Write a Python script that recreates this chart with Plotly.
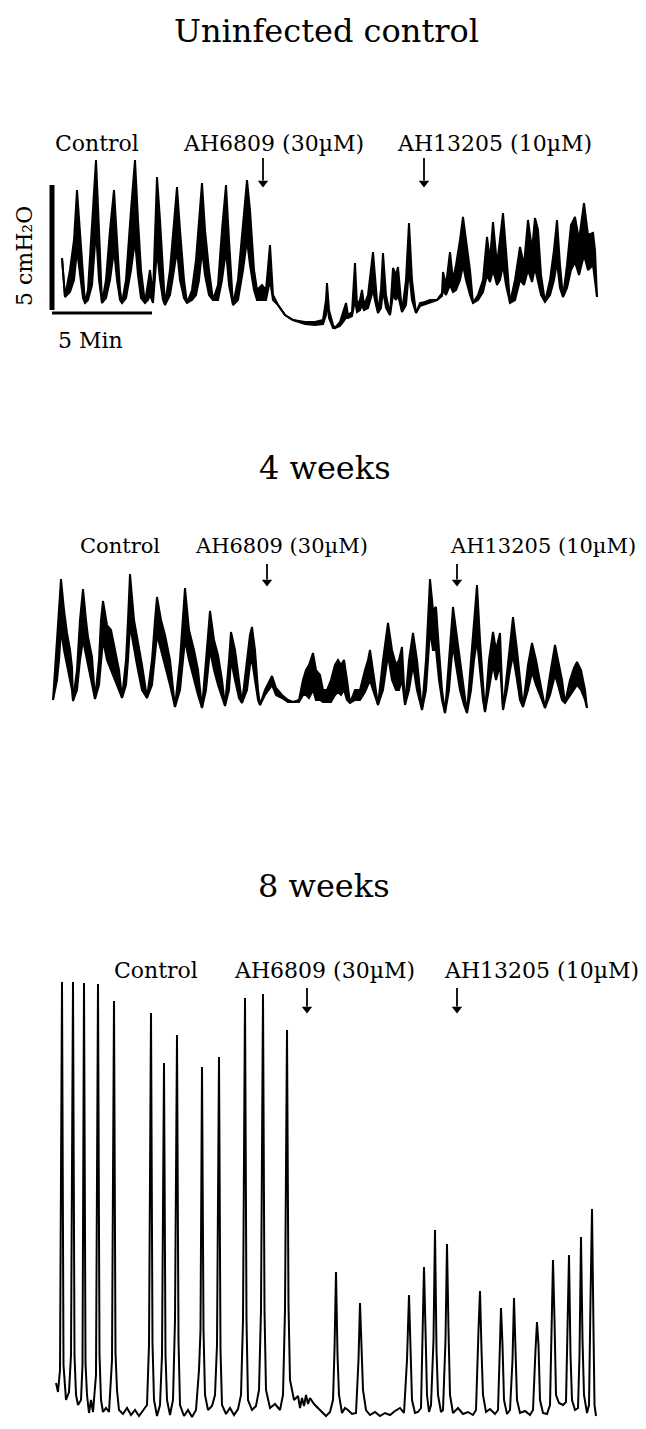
import plotly.graph_objects as go

# ---------------------------------------------------------------------------
# Intravesical pressure recordings.
# Time: seconds from the start of each trace.  Pressure: cmH2O above baseline.
# The chart-recorder traces carry fast oscillations, so the first two are kept
# as upper / lower envelopes; the 8-week trace is a single line.
# ---------------------------------------------------------------------------

panel_titles = ["Uninfected control", "4 weeks", "8 weeks"]
drug_labels = ["Control", "AH6809 (30µM)", "AH13205 (10µM)"]
scale_minutes = 5
scale_cmh2o = 5

# drug additions (s) for each recording: AH6809, AH13205
uninf_drug_t = [633, 1116]
wk4_drug_t = [642, 1212]
wk8_drug_t = [753, 1203]

uninf_t = [30, 39, 54, 66, 75, 84, 93, 99, 108, 120,
           132, 141, 150, 162, 174, 186, 195, 204, 210, 222,
           237, 249, 258, 267, 279, 288, 294, 303, 315, 324,
           333, 339, 354, 366, 375, 384, 396, 405, 420, 432,
           441, 450, 459, 471, 483, 498, 510, 522, 531, 543,
           558, 573, 585, 594, 606, 615, 630, 642, 654, 663,
           678, 699, 723, 759, 789, 813, 822, 825, 831, 843,
           849, 864, 882, 888, 900, 909, 915, 924, 930, 936,
           948, 963, 972, 978, 987, 993, 1002, 1014, 1023, 1032,
           1038, 1047, 1050, 1062, 1071, 1080, 1092, 1104, 1119, 1134,
           1155, 1170, 1173, 1182, 1194, 1203, 1212, 1224, 1233, 1242,
           1254, 1263, 1278, 1293, 1305, 1314, 1323, 1335, 1344, 1353,
           1362, 1374, 1389, 1404, 1416, 1428, 1440, 1449, 1458, 1467,
           1479, 1494, 1506, 1515, 1524, 1533, 1545, 1557, 1569, 1581,
           1596, 1608, 1623, 1629, 1635]
uninf_hi = [2.08, 0.52, 1.6, 2.8, 4.8, 3.2, 1.2, 0.28, 0.8, 3.2,
            6.0, 3.2, 0.28, 1.2, 3.2, 4.8, 2.8, 0.8, 0.28, 1.2,
            4.0, 6.0, 3.6, 1.6, 0.28, 1.2, 1.6, 0.6, 5.32, 3.6,
            1.2, 0.2, 1.6, 3.6, 4.92, 3.2, 1.2, 0.28, 0.8, 2.0,
            3.6, 5.08, 3.2, 1.6, 0.4, 1.0, 3.2, 5.0, 2.8, 0.2,
            1.2, 3.6, 5.2, 4.0, 1.6, 0.8, 1.0, 0.8, 2.6, 0.6,
            0.2, -0.2, -0.4, -0.48, -0.48, -0.4, 0.4, 1.08, 0.0, -0.6,
            -0.72, -0.48, 0.28, -0.2, -0.08, 1.88, 0.2, 0.4, 0.8, 0.2,
            0.6, 2.32, 0.8, -0.12, 0.8, 2.28, 0.6, -0.2, 1.68, 1.4,
            1.72, 0.2, -0.08, 1.2, 3.48, 1.2, -0.12, 0.28, 0.32, 0.4,
            0.4, 0.68, 1.52, 1.0, 2.32, 1.2, 1.8, 2.8, 3.72, 2.8,
            1.6, 0.28, 0.6, 1.2, 2.92, 2.0, 3.52, 1.8, 2.8, 3.88,
            2.4, 0.28, 1.2, 2.52, 1.8, 3.6, 2.4, 3.68, 3.2, 1.4,
            0.32, 1.2, 2.4, 3.6, 1.8, 0.52, 1.8, 3.4, 3.72, 2.8,
            4.28, 3.0, 3.08, 2.4, 0.52]
uninf_lo = [2.08, 0.52, 0.72, 1.2, 2.4, 1.4, 0.48, 0.28, 0.4, 1.0,
            3.2, 1.2, 0.28, 0.48, 1.2, 2.4, 1.2, 0.4, 0.28, 0.48,
            1.6, 2.8, 1.4, 0.48, 0.28, 0.4, 0.6, 0.28, 2.4, 1.2,
            0.4, 0.2, 0.6, 1.6, 2.4, 1.2, 0.48, 0.28, 0.4, 0.6,
            1.2, 2.4, 1.4, 0.6, 0.4, 0.4, 1.2, 2.4, 1.0, 0.2,
            0.4, 1.6, 2.8, 1.8, 0.8, 0.4, 0.4, 0.4, 1.2, 0.4,
            0.2, -0.2, -0.4, -0.56, -0.6, -0.56, -0.2, 0.4, -0.32, -0.72,
            -0.72, -0.64, -0.32, -0.32, -0.24, 0.4, -0.08, 0.0, 0.2, 0.0,
            0.08, 0.8, 0.2, -0.12, 0.08, 0.8, 0.08, -0.2, 0.6, 0.4,
            0.6, 0.0, -0.08, 0.2, 1.6, 0.4, -0.12, 0.16, 0.24, 0.32,
            0.4, 0.56, 0.8, 0.6, 1.0, 0.72, 0.8, 1.2, 1.8, 1.2,
            0.6, 0.28, 0.4, 0.72, 1.4, 1.12, 1.6, 1.0, 1.2, 1.8,
            1.0, 0.28, 0.4, 1.2, 1.0, 1.6, 1.12, 1.68, 1.2, 0.6,
            0.32, 0.6, 1.2, 1.92, 0.88, 0.52, 0.88, 1.6, 1.92, 1.4,
            2.2, 1.6, 1.8, 1.2, 0.52]

wk4_t = [0, 12, 18, 24, 33, 42, 51, 57, 60, 72,
         81, 90, 99, 105, 117, 126, 138, 144, 150, 162,
         174, 186, 198, 207, 219, 225, 231, 243, 252, 267,
         282, 297, 306, 312, 324, 336, 351, 366, 381, 390,
         396, 408, 423, 435, 447, 459, 471, 483, 495, 507,
         516, 528, 534, 546, 558, 567, 582, 591, 597, 606,
         615, 621, 636, 651, 657, 669, 687, 705, 720, 738,
         750, 759, 768, 780, 789, 801, 810, 822, 834, 846,
         855, 864, 873, 882, 891, 906, 921, 936, 945, 951,
         960, 975, 990, 999, 1005, 1017, 1029, 1038, 1047, 1056,
         1068, 1080, 1092, 1107, 1119, 1125, 1131, 1140, 1149, 1158,
         1167, 1176, 1188, 1194, 1200, 1209, 1221, 1233, 1242, 1254,
         1263, 1272, 1281, 1290, 1296, 1308, 1320, 1329, 1341, 1350,
         1362, 1371, 1380, 1392, 1401, 1410, 1425, 1437, 1449, 1461,
         1476, 1491, 1506, 1515, 1527, 1536, 1551, 1563, 1572, 1584,
         1596, 1602]
wk4_hi = [0.2, 2.6, 4.2, 5.04, 3.8, 2.88, 2.2, 1.52, 0.16, 1.4,
          3.4, 4.64, 3.4, 2.72, 1.92, 0.24, 1.8, 3.4, 4.16, 3.2,
          3.0, 2.2, 1.4, 0.28, 1.8, 3.4, 5.24, 3.4, 2.72, 1.6,
          0.28, 1.8, 3.4, 4.32, 3.4, 2.8, 1.8, -0.08, 1.8, 3.4,
          4.68, 3.0, 2.2, 1.4, -0.12, 1.8, 3.76, 2.6, 2.0, 1.0,
          -0.04, 1.8, 2.92, 2.2, 1.0, 0.08, 1.8, 2.8, 3.12, 2.2,
          0.6, 0.0, 0.6, 1.0, 1.16, 0.68, 0.4, 0.2, 0.12, 0.2,
          1.0, 1.4, 1.6, 2.08, 1.4, 1.2, 0.6, 0.6, 1.0, 1.6,
          1.8, 1.6, 1.8, 1.0, 0.08, 0.6, 0.6, 1.4, 1.8, 2.2,
          1.4, 0.0, 1.8, 2.6, 3.28, 2.2, 1.6, 1.8, 2.32, 0.0,
          1.8, 2.88, 1.8, -0.2, 1.8, 3.4, 5.04, 3.8, 3.92, 2.2,
          0.6, -0.32, 1.8, 3.0, 3.92, 3.0, 1.8, 0.6, -0.32, 1.8,
          3.4, 4.8, 2.6, 1.0, -0.28, 1.8, 2.92, 2.2, 2.88, -0.2,
          1.4, 2.6, 3.52, 2.2, 1.0, -0.08, 1.6, 2.48, 1.8, 1.0,
          -0.12, 1.2, 2.4, 1.8, 1.0, 0.08, 1.0, 1.48, 1.72, 1.4,
          0.6, -0.12]
wk4_lo = [0.2, 1.0, 1.8, 3.0, 2.2, 1.6, 1.0, 0.6, 0.16, 0.6,
          1.8, 2.6, 2.0, 1.6, 0.8, 0.24, 0.8, 1.8, 2.6, 1.8,
          1.4, 1.0, 0.6, 0.28, 0.8, 1.8, 3.2, 2.2, 1.6, 0.6,
          0.28, 0.8, 2.2, 2.8, 2.2, 1.6, 0.8, -0.08, 0.6, 1.8,
          2.6, 1.8, 1.0, 0.4, -0.12, 0.6, 2.2, 1.4, 0.8, 0.28,
          -0.04, 0.6, 1.8, 1.0, 0.28, 0.08, 0.6, 1.6, 1.8, 1.0,
          0.2, 0.0, 0.4, 0.68, 0.8, 0.4, 0.28, 0.12, 0.12, 0.12,
          0.4, 0.4, 0.28, 0.6, 0.2, 0.2, 0.12, 0.12, 0.12, 0.4,
          0.52, 0.4, 0.6, 0.2, 0.08, 0.2, 0.2, 0.52, 0.8, 1.0,
          0.6, 0.0, 0.6, 1.4, 2.0, 1.0, 0.6, 0.6, 1.0, 0.0,
          0.6, 1.6, 0.6, -0.2, 0.6, 1.8, 3.0, 2.2, 2.2, 1.0,
          0.2, -0.32, 0.6, 1.6, 2.4, 1.6, 0.6, 0.0, -0.32, 0.6,
          1.8, 2.6, 1.4, 0.2, -0.28, 0.6, 1.6, 1.0, 1.6, -0.2,
          0.6, 1.4, 2.0, 1.0, 0.2, -0.08, 0.6, 1.32, 0.8, 0.4,
          -0.12, 0.4, 1.2, 0.8, 0.2, 0.08, 0.4, 0.6, 0.8, 0.6,
          0.2, -0.12]

wk8_t = [0, 6, 12, 18, 22.5, 27, 30, 39, 45, 51,
         55.5, 60, 66, 75, 79.5, 84, 88.5, 93, 99, 105,
         111, 120, 126, 130.5, 135, 141, 150, 159, 168, 174,
         178.5, 183, 189, 201, 213, 225, 237, 249, 261, 273,
         279, 285, 289.5, 294, 303, 312, 318, 324, 328.5, 333,
         342, 351, 357, 363, 367.5, 372, 384, 396, 408, 420,
         429, 433.5, 438, 442.5, 447, 456, 468, 477, 483, 489,
         493.5, 498, 510, 522, 534, 546, 555, 561, 567, 571.5,
         576, 588, 600, 609, 615, 621, 625.5, 630, 642, 657,
         672, 681, 687, 693, 697.5, 702, 714, 726, 732, 738,
         744, 750, 756, 762, 774, 786, 798, 810, 822, 831,
         835.5, 840, 844.5, 849, 858, 867, 876, 888, 900, 907.5,
         912, 916.5, 921, 930, 942, 957, 972, 987, 1002, 1017,
         1032, 1044, 1053, 1059, 1063.5, 1068, 1077, 1086, 1095, 1099.5,
         1104, 1108.5, 1113, 1119, 1125, 1132.5, 1137, 1141.5, 1146, 1155,
         1161, 1168.5, 1173, 1177.5, 1182, 1191, 1206, 1221, 1236, 1251,
         1260, 1267.5, 1272, 1276.5, 1281, 1290, 1302, 1317, 1326, 1330.5,
         1335, 1339.5, 1344, 1353, 1362, 1369.5, 1374, 1378.5, 1383, 1392,
         1407, 1422, 1431, 1438.5, 1443, 1447.5, 1452, 1461, 1473, 1482,
         1486.5, 1491, 1495.5, 1500, 1509, 1521, 1530, 1534.5, 1539, 1543.5,
         1548, 1557, 1566, 1570.5, 1575, 1579.5, 1584, 1593, 1599, 1603.5,
         1608, 1612.5, 1615.5, 1620]
wk8_p = [1.08, 0.72, 1.6, 17.12, 1.8, 0.6, 0.4, 0.72, 2.2, 17.12,
         2.2, 0.6, 0.2, 0.4, 1.8, 17.08, 1.88, 0.6, -0.12, 0.4,
         -0.08, 1.4, 17.04, 2.2, 0.4, -0.08, 0.08, -0.08, 2.0, 16.36,
         2.28, 0.8, 0.0, -0.16, 0.08, -0.2, 0.0, -0.24, -0.04, 0.2,
         2.6, 15.88, 2.68, 0.4, -0.24, 0.2, 2.2, 13.88, 2.2, 0.4,
         -0.2, 0.4, 3.6, 15.0, 2.8, 0.2, -0.24, 0.0, -0.28, 0.0,
         1.6, 3.2, 13.72, 3.2, 0.6, 0.0, 0.16, 0.6, 2.6, 14.12,
         2.4, 0.2, -0.16, 0.08, -0.2, 0.04, 0.6, 3.6, 16.48, 3.6,
         0.4, 0.0, 0.16, 0.8, 4.0, 16.64, 4.0, 0.8, 0.08, 0.24,
         0.0, 0.6, 4.0, 15.2, 4.2, 1.2, 0.4, 0.56, 0.08, 0.48,
         0.16, 0.6, 0.24, 0.48, 0.24, 0.08, -0.12, -0.24, -0.08, 0.4,
         2.4, 5.52, 2.2, 0.6, -0.12, 0.08, 0.0, -0.16, -0.12, 2.0,
         4.28, 2.2, 0.8, 0.0, -0.2, -0.08, -0.24, -0.12, -0.2, -0.04,
         0.08, -0.12, 2.0, 4.6, 2.2, 0.4, -0.12, -0.08, 0.08, 2.8,
         5.72, 3.2, 0.6, -0.08, 0.2, 2.8, 7.2, 2.4, 0.6, -0.08,
         0.0, 2.8, 6.64, 3.2, 0.6, -0.12, 0.08, -0.16, -0.08, -0.2,
         0.0, 3.2, 4.76, 2.4, 0.6, -0.08, 0.04, -0.16, 0.0, 2.0,
         4.08, 2.6, 0.4, -0.16, 0.0, 2.0, 4.48, 2.4, 0.4, -0.12,
         -0.04, -0.2, 0.0, 2.4, 3.52, 2.6, 0.4, -0.12, -0.16, 0.2,
         3.6, 6.0, 3.6, 0.6, 0.28, 0.2, 0.32, 2.8, 6.2, 2.2,
         0.4, 0.0, 0.08, 2.2, 6.92, 2.8, 0.6, -0.12, 0.2, 4.4,
         8.04, 3.2, 0.2, -0.24]

# ---------------------------------------------------------------------------
# Page geometry (pixels) and recorder scale
# ---------------------------------------------------------------------------
W, H = 646, 1429
SEC_PER_PX = 3.0      # 5 min  -> 100 px
CM_PER_PX = 0.04      # 5 cmH2O -> 125 px
SERIF = "DejaVu Serif"

# x of t=0, y of zero pressure, vertical extent of each plotting strip,
# and the pixel rows spanned by the drug-addition arrows
strips = [
    dict(x0=52, base=310, top=150, bottom=345, arrow=(158, 187)),
    dict(x0=53, base=705, top=555, bottom=720, arrow=(564, 586)),
    dict(x0=56, base=1410, top=975, bottom=1429, arrow=(988, 1013)),
]
drug_times = [uninf_drug_t, wk4_drug_t, wk8_drug_t]


def fx(px):
    return px / W


def fy(py):
    return 1 - py / H


fig = go.Figure()
layout_axes = {}
for i, s in enumerate(strips, start=1):
    sfx = "" if i == 1 else str(i)
    layout_axes["xaxis" + sfx] = dict(
        domain=[0, 1], anchor="y" + sfx, visible=False, fixedrange=True,
        range=[-s["x0"] * SEC_PER_PX, (W - s["x0"]) * SEC_PER_PX])
    layout_axes["yaxis" + sfx] = dict(
        domain=[fy(s["bottom"]), fy(s["top"])], anchor="x" + sfx,
        visible=False, fixedrange=True,
        range=[(s["base"] - s["bottom"]) * CM_PER_PX,
               (s["base"] - s["top"]) * CM_PER_PX])

line_style = dict(color="black", width=2.0)


def add_envelope(t, lo, hi, ax):
    fig.add_trace(go.Scatter(x=t, y=lo, mode="lines", line=line_style,
                             xaxis="x" + ax, yaxis="y" + ax,
                             hoverinfo="skip", showlegend=False))
    fig.add_trace(go.Scatter(x=t, y=hi, mode="lines", line=line_style,
                             fill="tonexty", fillcolor="black",
                             xaxis="x" + ax, yaxis="y" + ax,
                             hoverinfo="skip", showlegend=False))


add_envelope(uninf_t, uninf_lo, uninf_hi, "")
add_envelope(wk4_t, wk4_lo, wk4_hi, "2")
fig.add_trace(go.Scatter(x=wk8_t, y=wk8_p, mode="lines",
                         line=dict(color="black", width=2.0),
                         xaxis="x3", yaxis="y3",
                         hoverinfo="skip", showlegend=False))

# calibration bars on the first recording
fig.add_trace(go.Scatter(x=[0, 0], y=[0, scale_cmh2o], mode="lines",
                         line=dict(color="black", width=5),
                         xaxis="x", yaxis="y", hoverinfo="skip",
                         showlegend=False))
fig.add_trace(go.Scatter(x=[0, scale_minutes * 60], y=[-0.12, -0.12],
                         mode="lines", line=dict(color="black", width=3),
                         xaxis="x", yaxis="y", hoverinfo="skip",
                         showlegend=False))

# downward arrows at each drug addition: shaft + triangular head
for i, (s, times) in enumerate(zip(strips, drug_times), start=1):
    sfx = "" if i == 1 else str(i)
    tail_px, tip_px = s["arrow"]
    p_tail = (s["base"] - tail_px) * CM_PER_PX
    p_head = (s["base"] - (tip_px - 4)) * CM_PER_PX
    for t in times:
        fig.add_trace(go.Scatter(x=[t, t], y=[p_tail, p_head + 0.1],
                                 mode="lines",
                                 line=dict(color="black", width=1.8),
                                 xaxis="x" + sfx, yaxis="y" + sfx,
                                 hoverinfo="skip", showlegend=False))
        fig.add_trace(go.Scatter(x=[t], y=[p_head], mode="markers",
                                 marker=dict(symbol="triangle-down", size=9,
                                             color="black"),
                                 xaxis="x" + sfx, yaxis="y" + sfx,
                                 hoverinfo="skip", showlegend=False))

annotations = []


def text(x, y, s, size, anchor="left", angle=0):
    annotations.append(dict(
        x=fx(x), y=fy(y), xref="paper", yref="paper", text=s,
        showarrow=False, xanchor=anchor, yanchor="middle", textangle=angle,
        font=dict(family=SERIF, size=size, color="black")))


# titles
for title, (cx, cy) in zip(panel_titles, [(326, 31), (325, 468), (324, 886)]):
    text(cx, cy, title, 32, anchor="center")

# drug labels per recording (left edges, text row, size)
label_rows = [
    ([53, 181, 395], 143, 22),
    ([78, 193, 448], 546, 21),
    ([112, 232, 442], 970, 22),
]
for xs, row_y, size in label_rows:
    for lbl, lx in zip(drug_labels, xs):
        text(lx, row_y, lbl, size)

# calibration labels
text(91, 341, f"{scale_minutes} Min", 22, anchor="center")
text(25, 256, f"{scale_cmh2o} cmH₂O", 22, anchor="center", angle=-90)

fig.update_layout(
    width=W, height=H,
    margin=dict(l=0, r=0, t=0, b=0, pad=0),
    paper_bgcolor="white", plot_bgcolor="white",
    showlegend=False,
    annotations=annotations,
    **layout_axes,
)

fig.write_html("out.html")
